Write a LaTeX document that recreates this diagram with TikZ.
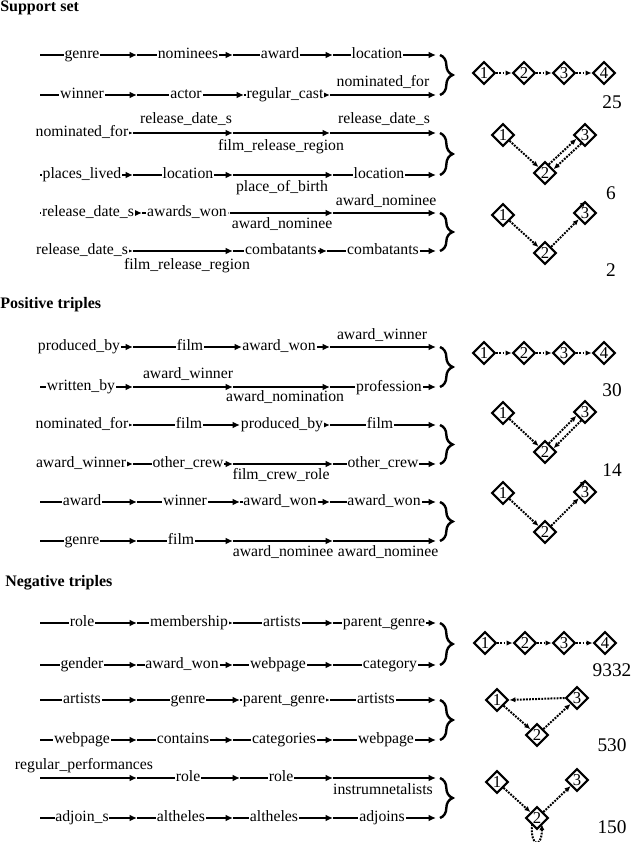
\documentclass[tikz,border=0pt]{standalone}
\usepackage{fontspec}
\setmainfont{Liberation Serif}
\usetikzlibrary{arrows.meta,shapes.geometric,decorations.pathreplacing}
\newcommand\labfont{\fontsize{11.8}{13}\selectfont}
\newcommand\pathrow[5]{%
  \coordinate (#1s) at (40,#2);
  \coordinate (#1a) at (#3,#2);
  \coordinate (#1b) at (#4,#2);
  \coordinate (#1c) at (#5,#2);
  \coordinate (#1d) at (436,#2);
  \coordinate (#1e) at (440,#2);
  \draw[seg] (#1s) -- (#1a);
  \draw[seg] (#1a) -- (#1b);
  \draw[seg] (#1b) -- (#1c);
  \draw[seg] (#1c) -- (#1d);
}
\tikzset{
  seg/.style={line width=2.1pt, -{Latex[length=5.5pt,width=5pt]}},
  on/.style={fill=white, inner xsep=0.6pt, inner ysep=0pt, text height=1.45ex, text depth=0.45ex, font=\labfont},
  lab/.style={inner sep=0pt, text height=1.45ex, text depth=0.45ex, font=\labfont},
  hdr/.style={anchor=west, inner sep=0pt, font=\bfseries\fontsize{12}{14}\selectfont},
  brc/.style={decorate, decoration={brace, amplitude=9.5pt}, line width=1.8pt},
  dia/.style={diamond, draw, line width=1.6pt, minimum size=17pt, inner sep=0pt, aspect=1, font=\fontsize{12.5}{12.5}\selectfont},
  darr/.style={line width=1.5pt, dash pattern=on 1.4pt off 0.9pt, -{Latex[length=4.5pt,width=4pt]}},
  num/.style={inner sep=0pt, font=\fontsize{14.5}{15}\selectfont},
}
\begin{document}
\begin{tikzpicture}[x=0.75pt,y=-0.75pt]
\useasboundingbox (0,0) rectangle (634,842);
% headers
\node[hdr] (h1) at (0,8) {Support set};
\node[hdr] (h2) at (0,305) {Positive triples};
\node[hdr] (h3) at (5,583) {Negative triples};
% rows
\pathrow{r1}{55}{137}{233}{333}
\pathrow{r2}{95}{137}{244}{330}
\pathrow{r3}{133}{133}{233}{330}
\pathrow{r4}{175}{133}{233}{333}
\pathrow{r5}{213}{142}{230}{333}
\pathrow{r6}{251}{133}{233}{327}
\pathrow{r7}{347}{133}{242}{330}
\pathrow{r8}{387}{133}{233}{330}
\pathrow{r9}{425}{133}{240}{330}
\pathrow{r10}{464}{133}{233}{333}
\pathrow{r11}{502}{137}{240}{330}
\pathrow{r12}{541}{137}{233}{333}
\pathrow{r13}{623}{137}{233}{333}
\pathrow{r14}{665}{137}{233}{333}
\pathrow{r15}{700}{137}{240}{330}
\pathrow{r16}{740}{137}{233}{333}
\pathrow{r17}{778}{137}{240}{333}
\pathrow{r18}{818}{137}{233}{333}
% labels: support set
\node[on] (l1a) at (82,55) {genre};
\node[on] (l1b) at (188,55) {nominees};
\node[on] (l1c) at (280,55) {award};
\node[on] (l1d) at (377,55) {location};
\node[on] (l2a) at (82,95) {winner};
\node[on] (l2b) at (186,95) {actor};
\node[on] (l2c) at (285,95) {regular\_cast};
\node[lab] (l2d) at (383,83) {nominated\_for};
\node[on] (l3a) at (82,133) {nominated\_for};
\node[lab] (l3b) at (186,120) {release\_date\_s};
\node[lab] (l3c) at (281,147) {film\_release\_region};
\node[lab] (l3d) at (384,120) {release\_date\_s};
\node[on] (l4a) at (82,175) {places\_lived};
\node[on] (l4b) at (188,175) {location};
\node[lab] (l4c) at (282,188) {place\_of\_birth};
\node[on] (l4d) at (379,175) {location};
\node[on] (l5a) at (88,213) {release\_date\_s};
\node[on] (l5b) at (187,213) {awards\_won};
\node[lab] (l5c) at (282,225) {award\_nominee};
\node[lab] (l5d) at (386,202) {award\_nominee};
\node[on] (l6a) at (82,251) {release\_date\_s};
\node[lab] (l6b) at (187,266) {film\_release\_region};
\node[on] (l6c) at (281,251) {combatants};
\node[on] (l6d) at (383,251) {combatants};
% labels: positive
\node[on] (l7a) at (79,347) {produced\_by};
\node[on] (l7b) at (190,347) {film};
\node[on] (l7c) at (279,347) {award\_won};
\node[lab] (l7d) at (382,336) {award\_winner};
\node[on] (l8a) at (81,387) {written\_by};
\node[lab] (l8b) at (188,375) {award\_winner};
\node[lab] (l8c) at (285,398) {award\_nomination};
\node[on] (l8d) at (389,388) {profession};
\node[on] (l9a) at (82,425) {nominated\_for};
\node[on] (l9b) at (189,425) {film};
\node[on] (l9c) at (282,425) {produced\_by};
\node[on] (l9d) at (380,425) {film};
\node[on] (l10a) at (81,464) {award\_winner};
\node[on] (l10b) at (188,464) {other\_crew};
\node[lab] (l10c) at (281,476) {film\_crew\_role};
\node[on] (l10d) at (383,464) {other\_crew};
\node[on] (l11a) at (82,502) {award};
\node[on] (l11b) at (185,502) {winner};
\node[on] (l11c) at (280,502) {award\_won};
\node[on] (l11d) at (384,502) {award\_won};
\node[on] (l12a) at (82,541) {genre};
\node[on] (l12b) at (181,541) {film};
\node[lab] (l12c) at (283,553) {award\_nominee};
\node[lab] (l12d) at (388,553) {award\_nominee};
% labels: negative
\node[on] (l13a) at (82,623) {role};
\node[on] (l13b) at (189,623) {membership};
\node[on] (l13c) at (282,623) {artists};
\node[on] (l13d) at (384,623) {parent\_genre};
\node[on] (l14a) at (82,665) {gender};
\node[on] (l14b) at (182,665) {award\_won};
\node[on] (l14c) at (278,665) {webpage};
\node[on] (l14d) at (390,665) {category};
\node[on] (l15a) at (82,700) {artists};
\node[on] (l15b) at (188,700) {genre};
\node[on] (l15c) at (284,700) {parent\_genre};
\node[on] (l15d) at (376,700) {artists};
\node[on] (l16a) at (82,740) {webpage};
\node[on] (l16b) at (183,740) {contains};
\node[on] (l16c) at (284,740) {categories};
\node[on] (l16d) at (386,740) {webpage};
\node[lab] (l17a) at (84,766) {regular\_performances};
\node[on] (l17b) at (188,778) {role};
\node[on] (l17c) at (281,778) {role};
\node[lab] (l17d) at (383,791) {instrumnetalists};
\node[on] (l18a) at (82,818) {adjoin\_s};
\node[on] (l18b) at (181,818) {altheles};
\node[on] (l18c) at (274,818) {altheles};
\node[on] (l18d) at (382,818) {adjoins};
% braces
\draw[brc] (r1e) -- (r2e);
\draw[brc] (r3e) -- (r4e);
\draw[brc] (r5e) -- (r6e);
\draw[brc] (r7e) -- (r8e);
\draw[brc] (r9e) -- (r10e);
\draw[brc] (r11e) -- (r12e);
\draw[brc] (r13e) -- (r14e);
\draw[brc] (r15e) -- (r16e);
\draw[brc] (r17e) -- (r18e);
% group 1 (chain)
\node[dia] (g1a) at (484,73) {1};
\node[dia] (g1b) at (524,73) {2};
\node[dia] (g1c) at (564,73) {3};
\node[dia] (g1d) at (604,73) {4};
\draw[darr] (g1a) -- (g1b);
\draw[darr] (g1b) -- (g1c);
\draw[darr] (g1c) -- (g1d);
\node[num] (n1) at (612,102) {25};
% group 2
\node[dia] (g2a) at (503,135) {1};
\node[dia] (g2b) at (545,173) {2};
\node[dia] (g2c) at (585,135) {3};
\draw[darr] (g2a) -- (g2b);
\draw[darr] ([shift={(-1.8pt,1.8pt)}]g2b.north east) -- ([shift={(-1.8pt,1.8pt)}]g2c.south west);
\draw[darr] ([shift={(1.8pt,-1.8pt)}]g2c.south west) -- ([shift={(1.8pt,-1.8pt)}]g2b.north east);
\node[num] (n2) at (611,193) {6};
% group 3
\node[dia] (g3a) at (503,215) {1};
\node[dia] (g3b) at (545,253) {2};
\node[dia] (g3c) at (585,213) {3};
\draw[darr] (g3a) -- (g3b);
\draw[darr] (g3b) -- (g3c);
\draw[darr] ([shift={(1pt,0pt)}]g3c.north west) -- ++(45:6pt);
\node[num] (n3) at (611,270) {2};
% group 4 (chain)
\node[dia] (g4a) at (484,353) {1};
\node[dia] (g4b) at (524,353) {2};
\node[dia] (g4c) at (564,353) {3};
\node[dia] (g4d) at (604,353) {4};
\draw[darr] (g4a) -- (g4b);
\draw[darr] (g4b) -- (g4c);
\draw[darr] (g4c) -- (g4d);
\node[num] (n4) at (612,390) {30};
% group 5
\node[dia] (g5a) at (503,413) {1};
\node[dia] (g5b) at (545,452) {2};
\node[dia] (g5c) at (585,412) {3};
\draw[darr] (g5a) -- (g5b);
\draw[darr] ([shift={(-1.8pt,1.8pt)}]g5b.north east) -- ([shift={(-1.8pt,1.8pt)}]g5c.south west);
\draw[darr] ([shift={(1.8pt,-1.8pt)}]g5c.south west) -- ([shift={(1.8pt,-1.8pt)}]g5b.north east);
\node[num] (n5) at (612,470) {14};
% group 6
\node[dia] (g6a) at (503,493) {1};
\node[dia] (g6b) at (545,532) {2};
\node[dia] (g6c) at (585,492) {3};
\draw[darr] (g6a) -- (g6b);
\draw[darr] (g6b) -- (g6c);
\draw[darr] ([shift={(1pt,0pt)}]g6c.north west) -- ++(45:6pt);
% group 7 (chain)
\node[dia] (g7a) at (485,643) {1};
\node[dia] (g7b) at (525,643) {2};
\node[dia] (g7c) at (564,643) {3};
\node[dia] (g7d) at (605,643) {4};
\draw[darr] (g7a) -- (g7b);
\draw[darr] (g7b) -- (g7c);
\draw[darr] (g7c) -- (g7d);
\node[num] (n7) at (612,670) {9332};
% group 8
\node[dia] (g8a) at (497,700) {1};
\node[dia] (g8b) at (537,735) {2};
\node[dia] (g8c) at (577,698) {3};
\draw[darr] (g8a) -- (g8b);
\draw[darr] (g8b) -- (g8c);
\draw[darr] (g8c.west) -- (g8a.east);
\node[num] (n8) at (612,745) {530};
% group 9
\node[dia] (g9a) at (497,782) {1};
\node[dia] (g9b) at (537,818) {2};
\node[dia] (g9c) at (577,780) {3};
\draw[darr] (g9a) -- (g9b);
\draw[darr] (g9b) -- (g9c);
\draw[darr] ([xshift=1pt]g9b.south west) .. controls (530,848) and (542,848) .. ([xshift=-1pt]g9b.south east);
\node[num] (n9) at (612,827) {150};
\end{tikzpicture}
\end{document}
